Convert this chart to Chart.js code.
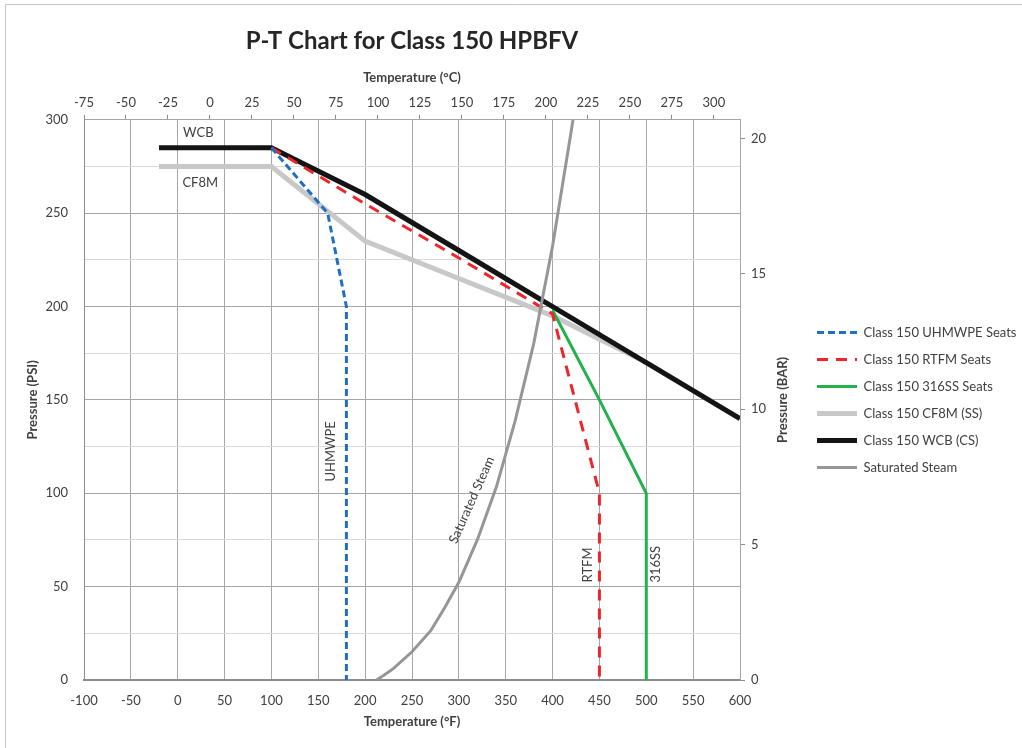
<!DOCTYPE html>
<html>
<head>
<meta charset="utf-8">
<title>P-T Chart for Class 150 HPBFV</title>
<script src="https://cdn.jsdelivr.net/npm/chart.js@4.4.1/dist/chart.umd.min.js"></script>
<style>
body { margin: 0; background: #fff; }
#wrap { width: 1022px; height: 748px; }
</style>
</head>
<body>
<div id="wrap"><canvas id="myChart" width="1022" height="748"></canvas></div>
<script>
/*-----series (temperature in F, pressure in psi)-----*/
var uhmwpeTemp = [100, 160, 170, 180, 180];
var uhmwpePsi = [285, 250, 225, 200, 0];

var rtfmTemp = [100, 200, 300, 400, 450, 450];
var rtfmPsi = [285, 255, 226, 196, 100, 0];

var ss316Temp = [400, 450, 500, 500];
var ss316Psi = [198, 150, 100, 0];

var cf8mTemp = [-20, 100, 200, 300, 400, 500, 600];
var cf8mPsi = [275, 275, 235, 215, 195, 170, 140];

var wcbTemp = [-20, 100, 200, 300, 400, 500, 600];
var wcbPsi = [285, 285, 260, 230, 200, 170, 140];

var steamTemp = [212, 220, 230, 250, 270, 285, 300, 320, 340, 360, 380, 400, 420, 425];
var steamPsi = [0, 2.5, 6.1, 15.1, 26.4, 38.8, 52.3, 75.4, 103.3, 138.6, 180.4, 232.4, 294.3, 310];

var seriesNames = ['Class 150 UHMWPE Seats', 'Class 150 RTFM Seats', 'Class 150 316SS Seats',
    'Class 150 CF8M (SS)', 'Class 150 WCB (CS)', 'Saturated Steam'];

/*-----in-plot labels-----*/
var noteText = ['WCB', 'CF8M', 'UHMWPE', 'Saturated Steam', 'RTFM', '316SS'];
var noteTemp = [22, 24, 163.6, 313.7, 437.4, 509.7];
var notePsi = [293, 266, 122.4, 96.4, 61.6, 62];
var noteAngle = [0, 0, -90, -66, -90, -90];

var fontName = 'Lato, "Open Sans", sans-serif';
var textColor = '#404040';

function pts(xs, ys) {
    var out = [];
    for (var i = 0; i < xs.length; i++) {
        out.push({ x: xs[i], y: ys[i] });
    }
    return out;
}

/*------labels, frame and right title------*/
var notesPlugin = {
    id: 'notes',
    afterDatasetsDraw: function(chart) {
        var ctx = chart.ctx;
        var xs = chart.scales.x,
            ys = chart.scales.y;
        ctx.save();
        ctx.font = '13px ' + fontName;
        ctx.fillStyle = textColor;
        ctx.textAlign = 'center';
        ctx.textBaseline = 'middle';
        for (var i = 0; i < noteText.length; i++) {
            ctx.save();
            ctx.translate(xs.getPixelForValue(noteTemp[i]), ys.getPixelForValue(notePsi[i]));
            ctx.rotate(noteAngle[i] * Math.PI / 180);
            ctx.fillText(noteText[i], 0, 0);
            ctx.restore();
        }
        ctx.restore();
    },
    afterDraw: function(chart) {
        var ctx = chart.ctx;
        var area = chart.chartArea;
        ctx.save();
        // right axis title reads bottom to top like the left one
        ctx.font = 'bold 13px ' + fontName;
        ctx.fillStyle = textColor;
        ctx.textAlign = 'center';
        ctx.textBaseline = 'middle';
        ctx.translate(783, (area.top + area.bottom) / 2);
        ctx.rotate(-Math.PI / 2);
        ctx.fillText('Pressure (BAR)', 0, 0);
        ctx.restore();

        ctx.save();
        ctx.strokeStyle = '#c4c4c4';
        ctx.lineWidth = 1;
        ctx.beginPath();
        ctx.moveTo(5.5, 748);
        ctx.lineTo(5.5, 4.5);
        ctx.lineTo(1022, 4.5);
        ctx.stroke();
        ctx.restore();
    }
};

/*------chart---------*/
var ctx = document.getElementById('myChart').getContext('2d');
var myChart = new Chart(ctx, {
    type: 'scatter',
    data: {
        datasets: [{
            label: seriesNames[0],
            data: pts(uhmwpeTemp, uhmwpePsi),
            borderColor: '#1f6fc5',
            borderWidth: 3,
            borderDash: [7, 4],
            order: 2
        }, {
            label: seriesNames[1],
            data: pts(rtfmTemp, rtfmPsi),
            borderColor: '#f0242b',
            borderWidth: 3,
            borderDash: [11, 8],
            order: 3
        }, {
            label: seriesNames[2],
            data: pts(ss316Temp, ss316Psi),
            borderColor: '#22b14c',
            borderWidth: 3,
            order: 4
        }, {
            label: seriesNames[3],
            data: pts(cf8mTemp, cf8mPsi),
            borderColor: '#c8c8c8',
            borderWidth: 5,
            order: 6
        }, {
            label: seriesNames[4],
            data: pts(wcbTemp, wcbPsi),
            borderColor: '#141414',
            borderWidth: 5,
            order: 5
        }, {
            label: seriesNames[5],
            data: pts(steamTemp, steamPsi),
            borderColor: '#969696',
            borderWidth: 3,
            order: 1
        }]
    },
    options: {
        responsive: false,
        animation: false,
        showLine: true,
        events: [],
        elements: {
            point: { radius: 0 },
            line: { tension: 0, borderCapStyle: 'butt' }
        },
        layout: {
            padding: { left: 18, right: 0, top: 0, bottom: 10 }
        },
        plugins: {
            tooltip: { enabled: false },
            title: {
                display: true,
                fullSize: false,
                text: 'P-T Chart for Class 150 HPBFV',
                color: '#262626',
                font: { family: fontName, size: 24, weight: 'bold' },
                padding: { top: 27, bottom: 9 }
            },
            legend: {
                position: 'right',
                fullSize: false,
                maxWidth: 219,
                labels: {
                    usePointStyle: true,
                    pointStyle: 'line',
                    pointStyleWidth: 40,
                    padding: 14,
                    color: textColor,
                    font: { family: fontName, size: 13 },
                    sort: function(a, b) {
                        return a.datasetIndex - b.datasetIndex;
                    },
                    generateLabels: function(chart) {
                        var items = Chart.defaults.plugins.legend.labels.generateLabels(chart);
                        items.forEach(function(item) {
                            var ds = chart.data.datasets[item.datasetIndex];
                            item.lineDash = ds.borderDash || [];
                            item.lineWidth = ds.borderWidth;
                            item.strokeStyle = ds.borderColor;
                        });
                        return items;
                    }
                }
            }
        },
        scales: {
            x: {
                type: 'linear',
                position: 'bottom',
                min: -100,
                max: 600,
                afterFit: function(scale) { scale.height = 58; },
                ticks: {
                    stepSize: 50,
                    padding: 13,
                    color: textColor,
                    font: { family: fontName, size: 13 }
                },
                grid: { color: '#a6a6a6', drawTicks: false },
                border: { color: '#8c8c8c', width: 2 },
                title: {
                    display: true,
                    text: 'Temperature (°F)',
                    color: textColor,
                    font: { family: fontName, size: 13, weight: 'bold' },
                    padding: { top: 0, bottom: 8 }
                }
            },
            x2: {
                type: 'linear',
                position: 'top',
                min: -75,
                max: 315.56,
                afterFit: function(scale) { scale.height = 55; },
                ticks: {
                    stepSize: 25,
                    includeBounds: false,
                    padding: 4,
                    color: textColor,
                    font: { family: fontName, size: 13 }
                },
                grid: { drawOnChartArea: false, tickLength: 5, tickColor: '#8c8c8c' },
                border: { display: false },
                title: {
                    display: true,
                    text: 'Temperature (°C)',
                    color: textColor,
                    font: { family: fontName, size: 13, weight: 'bold' },
                    padding: { top: 5, bottom: 0 }
                }
            },
            y: {
                type: 'linear',
                position: 'left',
                min: 0,
                max: 300,
                afterFit: function(scale) { scale.width = 66; },
                ticks: {
                    stepSize: 25,
                    padding: 16,
                    color: textColor,
                    font: { family: fontName, size: 13 },
                    callback: function(v) { return v % 50 === 0 ? v : ''; }
                },
                grid: {
                    drawTicks: false,
                    color: function(c) {
                        return c.tick && c.tick.value % 50 === 0 ? '#a6a6a6' : '#d9d9d9';
                    }
                },
                border: { color: '#8c8c8c' },
                title: {
                    display: true,
                    text: 'Pressure (PSI)',
                    color: textColor,
                    font: { family: fontName, size: 13, weight: 'bold' },
                    padding: { top: 7, bottom: 0 }
                }
            },
            y2: {
                type: 'linear',
                position: 'right',
                min: 0,
                max: 300 / 14.5038,
                afterFit: function(scale) { scale.width = 63; },
                ticks: {
                    stepSize: 5,
                    includeBounds: false,
                    padding: 6,
                    color: textColor,
                    font: { family: fontName, size: 13 }
                },
                grid: { drawOnChartArea: false, tickLength: 5, tickColor: '#8c8c8c' },
                border: { color: '#a6a6a6' }
            }
        }
    },
    plugins: [notesPlugin]
});
</script>
</body>
</html>
